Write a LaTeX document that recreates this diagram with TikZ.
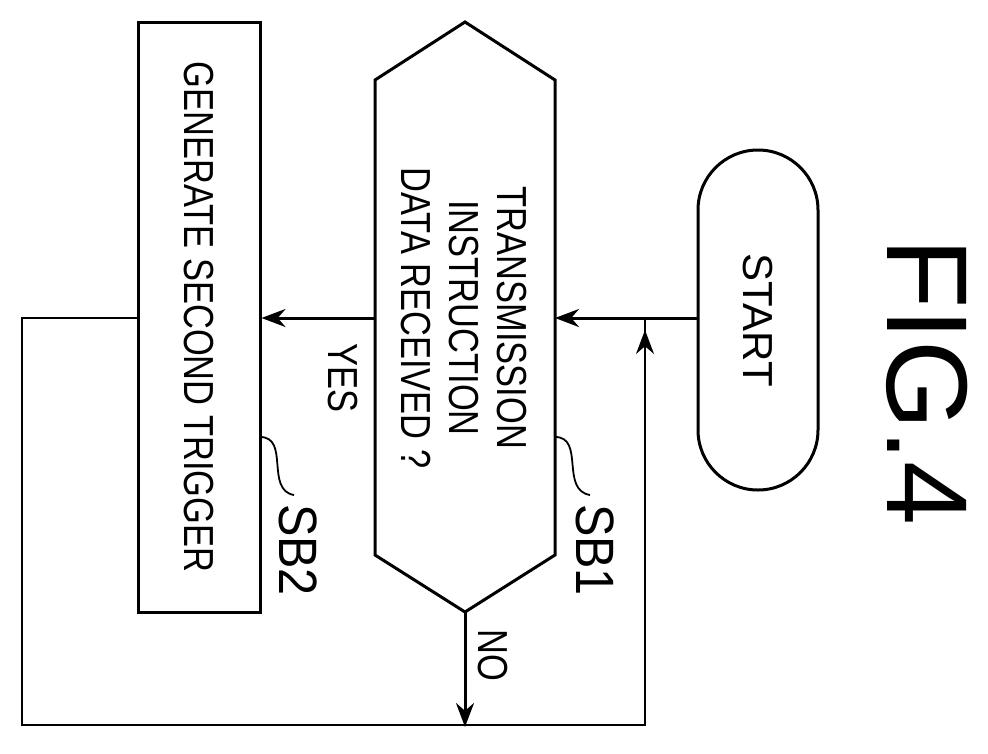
\documentclass[tikz,border=0pt]{standalone}
\usepackage{fontspec}
\setmainfont{Liberation Sans}
\usetikzlibrary{arrows.meta}
\begin{document}
\begin{tikzpicture}[x=1pt,y=-1pt,line width=3pt,
  lbl/.style={rotate=-90,inner sep=0pt,font=\fontsize{42}{48}\selectfont,align=center},
  arr/.style={-{Stealth[length=24pt,width=18pt]}},
  thin/.style={line width=1.8pt}]
\newcommand\nt[2][0.82]{\scalebox{#1}[1]{#2}}
\useasboundingbox (0,0) rectangle (988,753);
\node[lbl,font=\fontsize{115}{115}\selectfont] (fig) at (927,382) {FIG.4};
\node[draw,rounded corners=60pt,minimum width=120pt,minimum height=340pt,inner sep=0pt] (start) at (758,320) {};
\node[lbl] (startt) at (758,320) {\nt[1]{START}};
\draw (375,80) -- (465,22) -- (555,80) -- (555,555) -- (465,612) -- (375,555) -- cycle;
\coordinate (hexR) at (555,318);
\coordinate (hexL) at (375,318);
\coordinate (hexB) at (465,612);
\node[lbl] (dec) at (464,318) {\nt{TRANSMISSION}\\\nt{INSTRUCTION}\\\nt{DATA RECEIVED ?}};
\node[draw,minimum width=122pt,minimum height=590pt,inner sep=0pt] (box) at (199,317) {};
\node[lbl] (boxt) at (199,317) {\nt{GENERATE SECOND TRIGGER}};
\draw[arr] (start.west |- hexR) -- (hexR);
\draw[arr] (hexL) -- (box.east |- hexL);
\node[lbl] (yes) at (343,378) {\nt{YES}};
\coordinate (c1) at (22,318);
\coordinate (c2) at (22,725);
\coordinate (c3) at (645,725);
\coordinate (c4) at (645,318);
\coordinate (c5) at (645,330);
\draw[thin] (box.west |- c1) -- (c1) -- (c2) -- (c3) -- (c4);
\draw[arr,thin] (c3) -- (c5);
\draw[arr] (hexB) -- (465,727);
\node[lbl] (no) at (493,655) {\nt{NO}};
\node[lbl,font=\fontsize{54}{54}\selectfont] (sb1) at (595,550) {\nt[0.9]{SB1}};
\node[lbl,font=\fontsize{54}{54}\selectfont] (sb2) at (298,550) {\nt[0.9]{SB2}};
\draw[thin] (555,437) .. controls (585,437) and (560,490) .. (590,495);
\draw[thin] (260,437) .. controls (290,437) and (265,490) .. (294,495);
\end{tikzpicture}
\end{document}
